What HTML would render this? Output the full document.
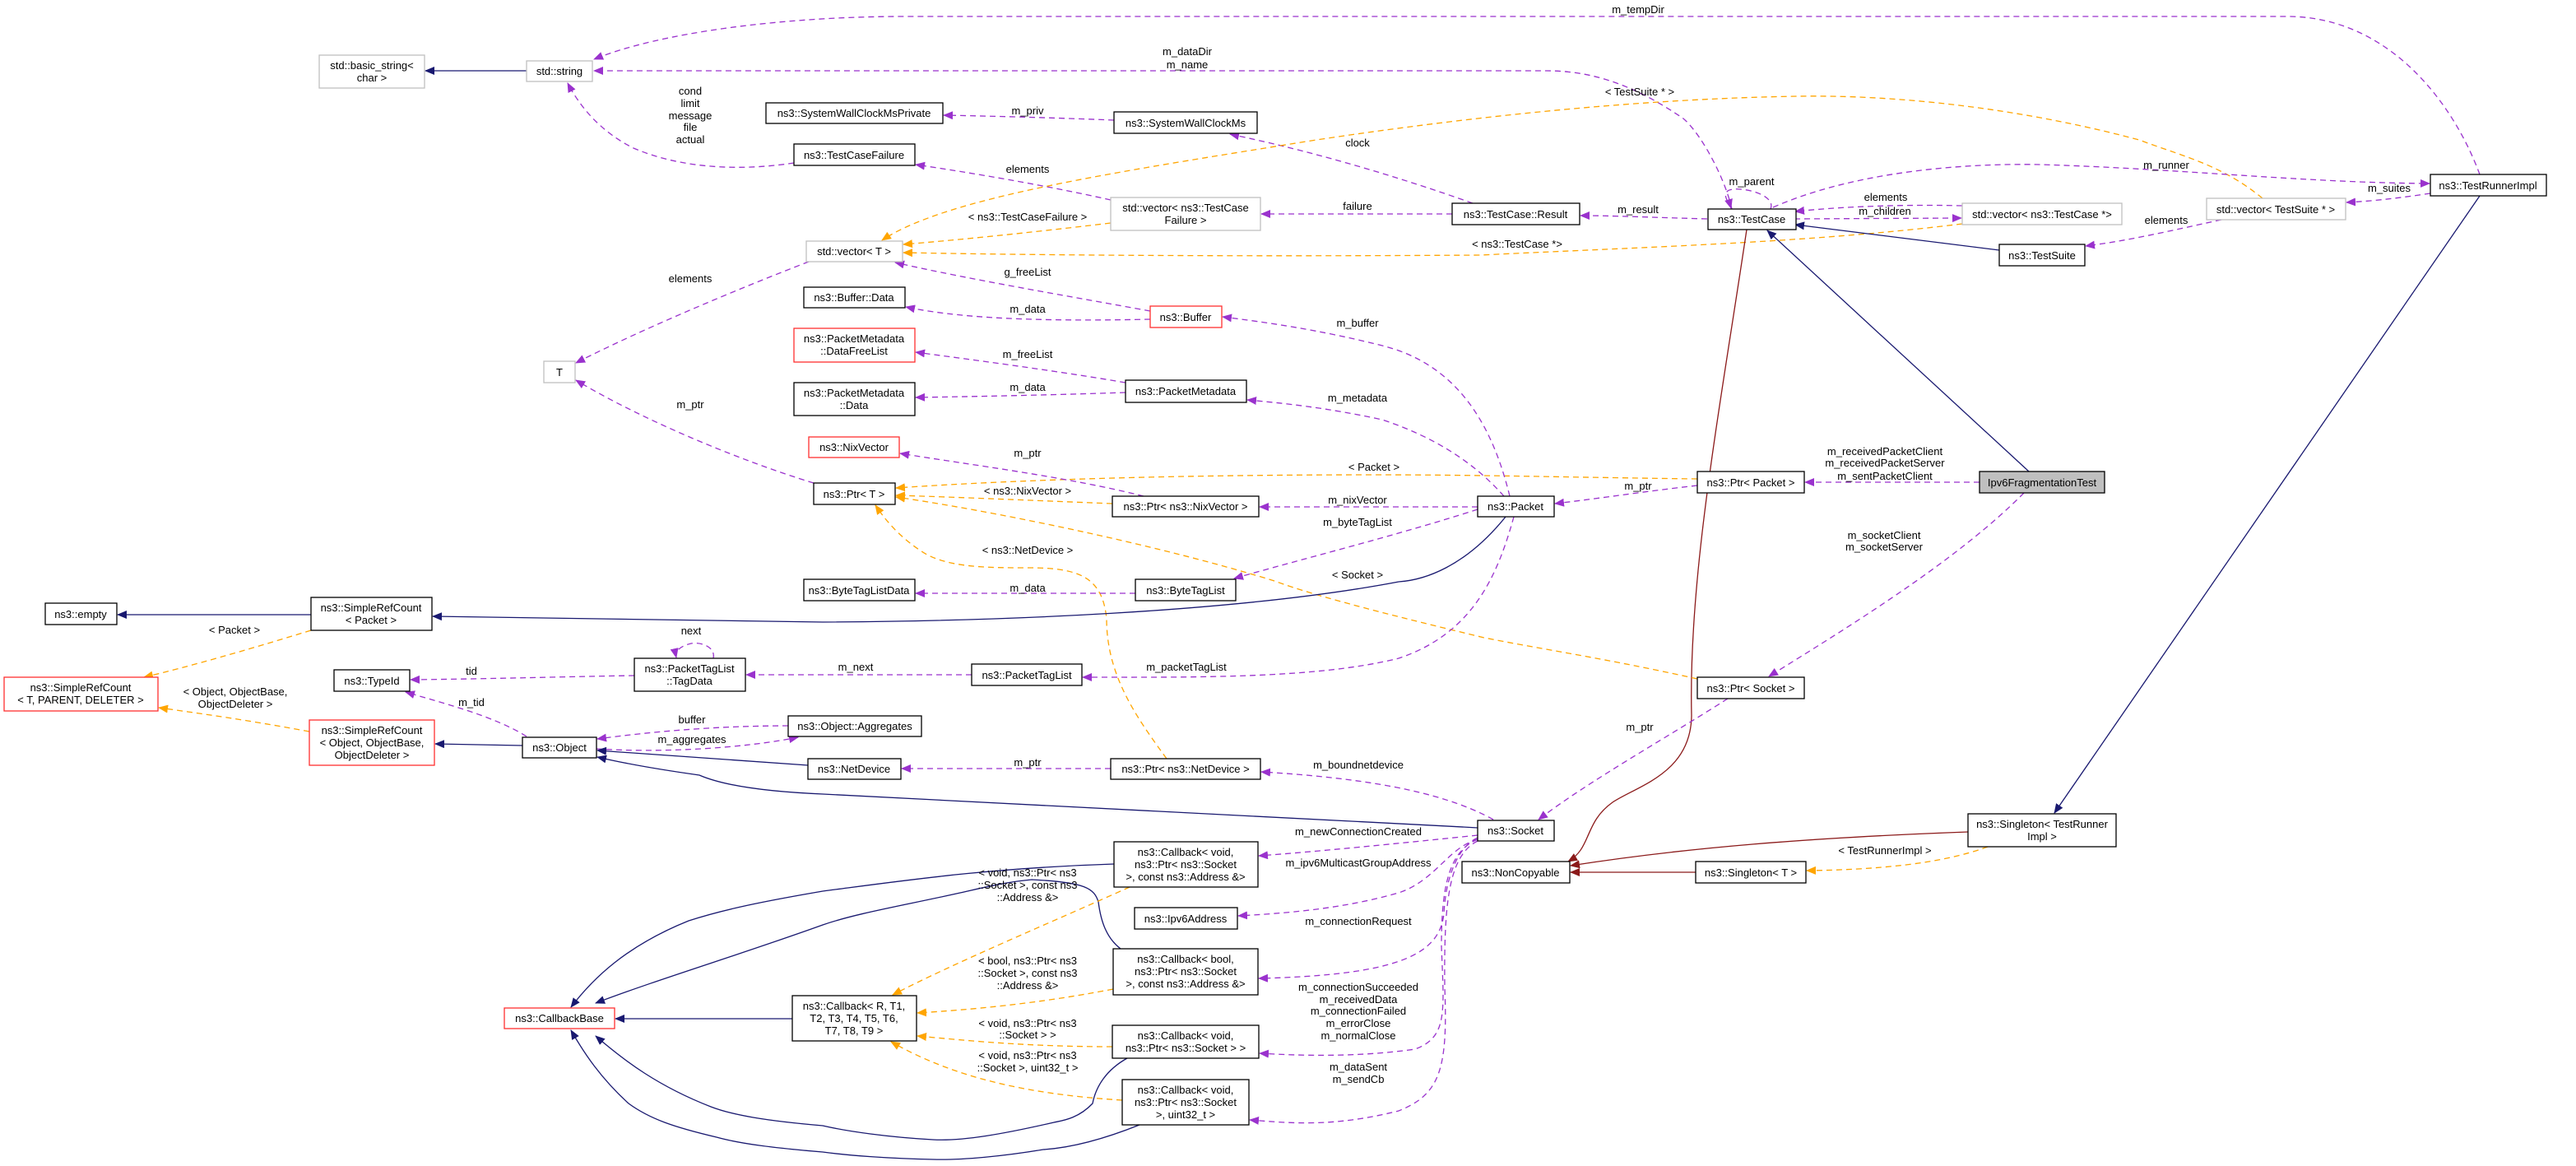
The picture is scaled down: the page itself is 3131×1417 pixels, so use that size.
<!DOCTYPE html>
<html><head><meta charset="utf-8"><style>
html,body{margin:0;padding:0;background:#fff;}
svg{display:block;}
text{font-family:"Liberation Sans",sans-serif;font-size:13px;fill:#000;}
.n{fill:#fff;stroke:#000;stroke-width:1.3;}
.g{fill:#fff;stroke:#bfbfbf;stroke-width:1.3;}
.r{fill:#fff;stroke:#ff3030;stroke-width:1.3;}
.f{fill:#bfbfbf;stroke:#000;stroke-width:1.3;}
.p{fill:none;stroke:#9a32cd;stroke-width:1.3;stroke-dasharray:7,5;}
.o{fill:none;stroke:#ffa500;stroke-width:1.3;stroke-dasharray:7,5;}
.b{fill:none;stroke:#191970;stroke-width:1.3;}
.d{fill:none;stroke:#8b1a1a;stroke-width:1.3;}
</style></head><body>
<svg width="3131" height="1417" viewBox="0 0 3131 1417" xmlns="http://www.w3.org/2000/svg">
<defs>
<marker id="mp" markerWidth="12" markerHeight="10" refX="11" refY="5" orient="auto" markerUnits="userSpaceOnUse"><path d="M0,0 L12,5 L0,10 z" fill="#9a32cd"/></marker>
<marker id="mo" markerWidth="12" markerHeight="10" refX="11" refY="5" orient="auto" markerUnits="userSpaceOnUse"><path d="M0,0 L12,5 L0,10 z" fill="#ffa500"/></marker>
<marker id="mb" markerWidth="12" markerHeight="10" refX="11" refY="5" orient="auto" markerUnits="userSpaceOnUse"><path d="M0,0 L12,5 L0,10 z" fill="#191970"/></marker>
<marker id="md" markerWidth="12" markerHeight="10" refX="11" refY="5" orient="auto" markerUnits="userSpaceOnUse"><path d="M0,0 L12,5 L0,10 z" fill="#8b1a1a"/></marker>
</defs>

<!-- EDGES -->
<g>
<path class="b" d="M640,86 L517,86" marker-end="url(#mb)"/>
<path class="p" d="M3014,212 C2980,120 2900,20 2780,20 L1100,20 C950,20 800,40 722,72" marker-end="url(#mp)"/>
<path class="p" d="M2105,254 C2095,210 2060,150 2040,140 C1980,100 1930,86 1880,86 L722,86" marker-end="url(#mp)"/>
<path class="p" d="M965,198 C920,205 840,210 770,180 C730,160 705,130 690,101" marker-end="url(#mp)"/>
<path class="p" d="M1354,146 C1280,143 1200,141 1147,140" marker-end="url(#mp)"/>
<path class="p" d="M1790,247 C1700,215 1600,185 1495,163" marker-end="url(#mp)"/>
<path class="p" d="M1350,243 C1270,225 1180,210 1113,200" marker-end="url(#mp)"/>
<path class="p" d="M1765,260 L1533,260" marker-end="url(#mp)"/>
<path class="o" d="M1350,271 C1250,283 1160,292 1098,297" marker-end="url(#mo)"/>
<path class="o" d="M2750,241 C2700,200 2653,190 2600,170 C2450,130 2300,115 2184,117 C2000,120 1800,140 1600,170 C1350,210 1150,240 1072,292" marker-end="url(#mo)"/>
<path class="o" d="M2385,272 C2200,295 2000,300 1800,310 C1500,312 1250,310 1098,307" marker-end="url(#mo)"/>
<path class="p" d="M2075,266 C2000,264 1960,262 1921,262" marker-end="url(#mp)"/>
<path class="p" d="M2152,254 C2160,235 2110,225 2100,232 C2093,238 2102,246 2104,253" marker-end="url(#mp)"/>
<path class="p" d="M2385,250 C2300,248 2230,252 2182,257" marker-end="url(#mp)"/>
<path class="p" d="M2181,266 L2384,265" marker-end="url(#mp)"/>
<path class="p" d="M2155,252 C2250,210 2380,198 2480,200 C2650,205 2800,222 2953,223" marker-end="url(#mp)"/>
<path class="p" d="M2954,235 C2920,240 2890,244 2852,246" marker-end="url(#mp)"/>
<path class="p" d="M2700,267 C2640,280 2590,292 2535,299" marker-end="url(#mp)"/>
<path class="b" d="M2430,304 L2182,273" marker-end="url(#mb)"/>
<path class="b" d="M2466,573 L2148,280" marker-end="url(#mb)"/>
<path class="b" d="M3014,238 L2497,988" marker-end="url(#mb)"/>
<path class="d" d="M2123,279 C2090,500 2052,700 2056,870 C2055,940 1990,955 1960,975 C1925,1000 1935,1030 1906,1047" marker-end="url(#md)"/>
<path class="d" d="M2392,1011 C2200,1018 2050,1030 1909,1052" marker-end="url(#md)"/>
<path class="d" d="M2061,1060 L1909,1060" marker-end="url(#md)"/>
<path class="o" d="M2416,1029 C2360,1050 2280,1057 2196,1058" marker-end="url(#mo)"/>
<path class="p" d="M2406,586 L2194,586" marker-end="url(#mp)"/>
<path class="p" d="M2460,599 C2380,680 2250,760 2150,822" marker-end="url(#mp)"/>
<path class="p" d="M2063,590 C2000,597 1950,605 1890,612" marker-end="url(#mp)"/>
<path class="o" d="M2063,582 C1900,580 1800,577 1670,577 C1450,577 1250,582 1089,593" marker-end="url(#mo)"/>
<path class="p" d="M1796,616 L1531,616" marker-end="url(#mp)"/>
<path class="o" d="M1352,612 C1250,608 1160,604 1089,602" marker-end="url(#mo)"/>
<path class="p" d="M1390,603 C1300,580 1180,565 1094,551" marker-end="url(#mp)"/>
<path class="p" d="M1835,603 C1810,500 1760,440 1680,420 C1600,400 1540,392 1486,385" marker-end="url(#mp)"/>
<path class="p" d="M1828,603 C1790,560 1740,530 1680,510 C1610,495 1560,490 1516,486" marker-end="url(#mp)"/>
<path class="p" d="M1368,465 C1280,450 1180,437 1113,428" marker-end="url(#mp)"/>
<path class="p" d="M1368,477 C1280,480 1180,482 1113,483" marker-end="url(#mp)"/>
<path class="p" d="M1398,378 C1300,360 1180,340 1088,319" marker-end="url(#mp)"/>
<path class="p" d="M1398,388 C1300,390 1180,390 1101,373" marker-end="url(#mp)"/>
<path class="p" d="M983,318 C900,350 780,400 700,441" marker-end="url(#mp)"/>
<path class="p" d="M989,587 C900,560 780,510 700,462" marker-end="url(#mp)"/>
<path class="p" d="M1796,619 C1700,650 1580,680 1500,703" marker-end="url(#mp)"/>
<path class="o" d="M1418,922 C1380,870 1345,820 1345,752 C1340,700 1310,690 1250,690 C1200,690 1150,690 1120,670 C1090,650 1075,630 1064,614" marker-end="url(#mo)"/>
<path class="o" d="M2063,825 C1950,800 1880,790 1804,775 C1700,750 1600,725 1549,706 C1400,660 1200,620 1089,604" marker-end="url(#mo)"/>
<path class="b" d="M1830,628 C1780,690 1730,705 1700,707 C1500,745 1200,755 1000,756 L526,749" marker-end="url(#mb)"/>
<path class="p" d="M1380,721 L1113,721" marker-end="url(#mp)"/>
<path class="p" d="M1840,628 C1820,700 1790,770 1700,800 C1600,825 1450,823 1316,823" marker-end="url(#mp)"/>
<path class="p" d="M1181,820 L907,820" marker-end="url(#mp)"/>
<path class="p" d="M867,800 C870,785 850,780 840,782 C828,785 820,790 822,799" marker-end="url(#mp)"/>
<path class="p" d="M771,821 C700,822 600,825 499,826" marker-end="url(#mp)"/>
<path class="p" d="M640,895 C600,870 540,855 493,841" marker-end="url(#mp)"/>
<path class="p" d="M958,882 C880,882 800,888 726,898" marker-end="url(#mp)"/>
<path class="p" d="M725,910 C800,915 900,910 970,896" marker-end="url(#mp)"/>
<path class="b" d="M635,906 L529,904" marker-end="url(#mb)"/>
<path class="o" d="M376,889 C300,875 250,868 193,860" marker-end="url(#mo)"/>
<path class="o" d="M378,766 C300,790 230,810 175,823" marker-end="url(#mo)"/>
<path class="b" d="M378,747 L143,747" marker-end="url(#mb)"/>
<path class="b" d="M982,930 L726,912" marker-end="url(#mb)"/>
<path class="b" d="M1796,1006 C1500,990 1200,975 1000,965 C930,962 880,955 850,942 C800,935 760,928 726,920" marker-end="url(#mb)"/>
<path class="p" d="M1350,934 L1096,934" marker-end="url(#mp)"/>
<path class="p" d="M1815,996 C1750,960 1650,945 1533,938" marker-end="url(#mp)"/>
<path class="p" d="M2100,849 C2020,900 1930,950 1870,996" marker-end="url(#mp)"/>
<path class="p" d="M1796,1015 C1700,1025 1600,1035 1530,1040" marker-end="url(#mp)"/>
<path class="p" d="M1796,1020 C1760,1030 1745,1070 1700,1085 C1630,1105 1560,1110 1505,1113" marker-end="url(#mp)"/>
<path class="p" d="M1796,1018 C1770,1030 1757,1070 1755,1110 C1750,1160 1700,1185 1530,1189" marker-end="url(#mp)"/>
<path class="p" d="M1796,1020 C1760,1035 1752,1080 1752,1150 C1755,1230 1760,1260 1720,1275 C1650,1285 1580,1283 1531,1280" marker-end="url(#mp)"/>
<path class="p" d="M1796,1022 C1760,1040 1755,1100 1756,1200 C1760,1300 1750,1330 1700,1350 C1620,1370 1570,1365 1519,1361" marker-end="url(#mp)"/>
<path class="b" d="M1354,1050 C1200,1055 1100,1070 1000,1083 C930,1095 880,1105 837,1119 C760,1150 720,1190 694,1224" marker-end="url(#mb)"/>
<path class="b" d="M1362,1153 C1345,1140 1338,1120 1335,1096 C1330,1080 1320,1072 1254,1069 C1220,1072 1190,1080 1167,1085 C1100,1100 1040,1110 1000,1124 C900,1160 800,1190 724,1219" marker-end="url(#mb)"/>
<path class="b" d="M963,1238 L748,1238" marker-end="url(#mb)"/>
<path class="b" d="M1370,1286 C1345,1300 1332,1320 1328,1341 C1310,1360 1290,1362 1281,1364 C1220,1378 1170,1387 1134,1385 C1080,1382 1030,1375 1000,1368 C930,1362 890,1355 864,1345 C800,1320 760,1290 724,1259" marker-end="url(#mb)"/>
<path class="b" d="M1385,1367 C1340,1385 1300,1395 1268,1397 C1220,1405 1170,1410 1134,1409 C1080,1408 1030,1404 1000,1400 C940,1395 900,1390 871,1382 C820,1370 790,1360 764,1341 C730,1310 710,1280 694,1252" marker-end="url(#mb)"/>
<path class="o" d="M1373,1078 C1280,1120 1160,1170 1085,1209" marker-end="url(#mo)"/>
<path class="o" d="M1353,1202 C1260,1220 1180,1227 1115,1231" marker-end="url(#mo)"/>
<path class="o" d="M1352,1272 C1250,1272 1180,1265 1115,1259" marker-end="url(#mo)"/>
<path class="o" d="M1364,1337 C1250,1330 1160,1310 1083,1266" marker-end="url(#mo)"/>
</g>

<!-- EDGE LABELS -->
<g text-anchor="middle">
<text x="1991" y="16">m_tempDir</text>
<text x="1443" y="67">m_dataDir</text>
<text x="1443" y="83">m_name</text>
<text x="839" y="115">cond</text>
<text x="839" y="130">limit</text>
<text x="839" y="145">message</text>
<text x="839" y="159">file</text>
<text x="839" y="174">actual</text>
<text x="1249" y="139">m_priv</text>
<text x="1650" y="178">clock</text>
<text x="1249" y="210">elements</text>
<text x="1650" y="255">failure</text>
<text x="1249" y="268">&lt; ns3::TestCaseFailure &gt;</text>
<text x="1993" y="116">&lt; TestSuite * &gt;</text>
<text x="1844" y="301">&lt; ns3::TestCase *&gt;</text>
<text x="1991" y="259">m_result</text>
<text x="2129" y="225">m_parent</text>
<text x="2292" y="244">elements</text>
<text x="2291" y="261">m_children</text>
<text x="2633" y="205">m_runner</text>
<text x="2904" y="233">m_suites</text>
<text x="2633" y="272">elements</text>
<text x="2291" y="1038">&lt; TestRunnerImpl &gt;</text>
<text x="2291" y="553">m_receivedPacketClient</text>
<text x="2291" y="567">m_receivedPacketServer</text>
<text x="2291" y="583">m_sentPacketClient</text>
<text x="2290" y="655">m_socketClient</text>
<text x="2290" y="669">m_socketServer</text>
<text x="1991" y="595">m_ptr</text>
<text x="1670" y="572">&lt; Packet &gt;</text>
<text x="1650" y="612">m_nixVector</text>
<text x="1249" y="601">&lt; ns3::NixVector &gt;</text>
<text x="1249" y="555">m_ptr</text>
<text x="1650" y="397">m_buffer</text>
<text x="1650" y="488">m_metadata</text>
<text x="1249" y="435">m_freeList</text>
<text x="1249" y="475">m_data</text>
<text x="1249" y="335">g_freeList</text>
<text x="1249" y="380">m_data</text>
<text x="839" y="343">elements</text>
<text x="839" y="496">m_ptr</text>
<text x="1650" y="639">m_byteTagList</text>
<text x="1249" y="673">&lt; ns3::NetDevice &gt;</text>
<text x="1650" y="703">&lt; Socket &gt;</text>
<text x="1249" y="719">m_data</text>
<text x="1442" y="815">m_packetTagList</text>
<text x="1040" y="815">m_next</text>
<text x="840" y="771">next</text>
<text x="573" y="820">tid</text>
<text x="573" y="858">m_tid</text>
<text x="841" y="879">buffer</text>
<text x="841" y="903">m_aggregates</text>
<text x="286" y="845">&lt; Object, ObjectBase,</text>
<text x="286" y="860">ObjectDeleter &gt;</text>
<text x="285" y="770">&lt; Packet &gt;</text>
<text x="1249" y="931">m_ptr</text>
<text x="1651" y="934">m_boundnetdevice</text>
<text x="1993" y="888">m_ptr</text>
<text x="1651" y="1015">m_newConnectionCreated</text>
<text x="1651" y="1053">m_ipv6MulticastGroupAddress</text>
<text x="1651" y="1124">m_connectionRequest</text>
<text x="1651" y="1204">m_connectionSucceeded</text>
<text x="1651" y="1219">m_receivedData</text>
<text x="1651" y="1233">m_connectionFailed</text>
<text x="1651" y="1248">m_errorClose</text>
<text x="1651" y="1263">m_normalClose</text>
<text x="1651" y="1301">m_dataSent</text>
<text x="1651" y="1316">m_sendCb</text>
<text x="1249" y="1065">&lt; void, ns3::Ptr&lt; ns3</text>
<text x="1249" y="1080">::Socket &gt;, const ns3</text>
<text x="1249" y="1095">::Address &amp;&gt;</text>
<text x="1249" y="1172">&lt; bool, ns3::Ptr&lt; ns3</text>
<text x="1249" y="1187">::Socket &gt;, const ns3</text>
<text x="1249" y="1202">::Address &amp;&gt;</text>
<text x="1249" y="1248">&lt; void, ns3::Ptr&lt; ns3</text>
<text x="1249" y="1262">::Socket &gt; &gt;</text>
<text x="1249" y="1287">&lt; void, ns3::Ptr&lt; ns3</text>
<text x="1249" y="1302">::Socket &gt;, uint32_t &gt;</text>
</g>

<!-- NODES -->
<g text-anchor="middle">
<rect class="g" x="388" y="67" width="128" height="40"/><text x="452" y="84">std::basic_string&lt;</text><text x="452" y="99">char &gt;</text>
<rect class="g" x="640" y="74" width="80" height="25"/><text x="680" y="91">std::string</text>
<rect class="g" x="661" y="439" width="38" height="26"/><text x="680" y="457">T</text>
<rect class="n" x="931" y="125" width="215" height="25"/><text x="1038" y="142">ns3::SystemWallClockMsPrivate</text>
<rect class="n" x="965" y="175" width="147" height="26"/><text x="1038" y="193">ns3::TestCaseFailure</text>
<rect class="g" x="980" y="293" width="117" height="25"/><text x="1038" y="310">std::vector&lt; T &gt;</text>
<rect class="n" x="977" y="349" width="123" height="25"/><text x="1038" y="366">ns3::Buffer::Data</text>
<rect class="r" x="965" y="399" width="147" height="41"/><text x="1038" y="416">ns3::PacketMetadata</text><text x="1038" y="431">::DataFreeList</text>
<rect class="n" x="965" y="465" width="147" height="40"/><text x="1038" y="482">ns3::PacketMetadata</text><text x="1038" y="497">::Data</text>
<rect class="r" x="983" y="531" width="110" height="25"/><text x="1038" y="548">ns3::NixVector</text>
<rect class="n" x="989" y="587" width="99" height="26"/><text x="1038" y="605">ns3::Ptr&lt; T &gt;</text>
<rect class="n" x="1354" y="136" width="174" height="26"/><text x="1441" y="154">ns3::SystemWallClockMs</text>
<rect class="g" x="1350" y="240" width="182" height="40"/><text x="1441" y="257">std::vector&lt; ns3::TestCase</text><text x="1441" y="272">Failure &gt;</text>
<rect class="n" x="1765" y="247" width="155" height="26"/><text x="1842" y="265">ns3::TestCase::Result</text>
<rect class="r" x="1398" y="372" width="87" height="26"/><text x="1441" y="390">ns3::Buffer</text>
<rect class="n" x="1368" y="462" width="147" height="27"/><text x="1441" y="480">ns3::PacketMetadata</text>
<rect class="n" x="1352" y="603" width="178" height="25"/><text x="1441" y="620">ns3::Ptr&lt; ns3::NixVector &gt;</text>
<rect class="n" x="1796" y="603" width="93" height="25"/><text x="1842" y="620">ns3::Packet</text>
<rect class="n" x="2076" y="254" width="107" height="25"/><text x="2129" y="271">ns3::TestCase</text>
<rect class="g" x="2385" y="247" width="194" height="26"/><text x="2482" y="265">std::vector&lt; ns3::TestCase *&gt;</text>
<rect class="n" x="2430" y="297" width="104" height="26"/><text x="2482" y="315">ns3::TestSuite</text>
<rect class="g" x="2682" y="241" width="169" height="26"/><text x="2766" y="259">std::vector&lt; TestSuite * &gt;</text>
<rect class="n" x="2954" y="212" width="141" height="26"/><text x="3024" y="230">ns3::TestRunnerImpl</text>
<rect class="n" x="2063" y="573" width="130" height="26"/><text x="2128" y="591">ns3::Ptr&lt; Packet &gt;</text>
<rect class="f" x="2406" y="573" width="152" height="26"/><text x="2482" y="591">Ipv6FragmentationTest</text>
<rect class="n" x="55" y="733" width="87" height="26"/><text x="98" y="751">ns3::empty</text>
<rect class="n" x="378" y="726" width="147" height="40"/><text x="451" y="743">ns3::SimpleRefCount</text><text x="451" y="758">&lt; Packet &gt;</text>
<rect class="r" x="5" y="823" width="187" height="41"/><text x="98" y="840">ns3::SimpleRefCount</text><text x="98" y="855">&lt; T, PARENT, DELETER &gt;</text>
<rect class="n" x="406" y="814" width="92" height="26"/><text x="452" y="832">ns3::TypeId</text>
<rect class="n" x="771" y="800" width="135" height="40"/><text x="838" y="817">ns3::PacketTagList</text><text x="838" y="832">::TagData</text>
<rect class="r" x="376" y="875" width="152" height="55"/><text x="452" y="892">ns3::SimpleRefCount</text><text x="452" y="907">&lt; Object, ObjectBase,</text><text x="452" y="922">ObjectDeleter &gt;</text>
<rect class="n" x="635" y="896" width="90" height="25"/><text x="680" y="913">ns3::Object</text>
<rect class="n" x="958" y="870" width="162" height="25"/><text x="1039" y="887">ns3::Object::Aggregates</text>
<rect class="n" x="982" y="922" width="113" height="25"/><text x="1038" y="939">ns3::NetDevice</text>
<rect class="r" x="613" y="1225" width="134" height="25"/><text x="680" y="1242">ns3::CallbackBase</text>
<rect class="n" x="963" y="1210" width="151" height="55"/><text x="1038" y="1227">ns3::Callback&lt; R, T1,</text><text x="1038" y="1242">T2, T3, T4, T5, T6,</text><text x="1038" y="1257">T7, T8, T9 &gt;</text>
<rect class="n" x="977" y="704" width="135" height="26"/><text x="1044" y="722">ns3::ByteTagListData</text>
<rect class="n" x="1380" y="704" width="122" height="26"/><text x="1441" y="722">ns3::ByteTagList</text>
<rect class="n" x="1181" y="807" width="134" height="26"/><text x="1248" y="825">ns3::PacketTagList</text>
<rect class="n" x="1350" y="922" width="182" height="25"/><text x="1441" y="939">ns3::Ptr&lt; ns3::NetDevice &gt;</text>
<rect class="n" x="1796" y="997" width="93" height="25"/><text x="1842" y="1014">ns3::Socket</text>
<rect class="n" x="1777" y="1047" width="131" height="26"/><text x="1842" y="1065">ns3::NonCopyable</text>
<rect class="n" x="1354" y="1023" width="175" height="55"/><text x="1441" y="1040">ns3::Callback&lt; void,</text><text x="1441" y="1055">ns3::Ptr&lt; ns3::Socket</text><text x="1441" y="1070">&gt;, const ns3::Address &amp;&gt;</text>
<rect class="n" x="1379" y="1103" width="125" height="26"/><text x="1441" y="1121">ns3::Ipv6Address</text>
<rect class="n" x="1353" y="1153" width="176" height="56"/><text x="1441" y="1170">ns3::Callback&lt; bool,</text><text x="1441" y="1185">ns3::Ptr&lt; ns3::Socket</text><text x="1441" y="1200">&gt;, const ns3::Address &amp;&gt;</text>
<rect class="n" x="1352" y="1246" width="178" height="40"/><text x="1441" y="1263">ns3::Callback&lt; void,</text><text x="1441" y="1278">ns3::Ptr&lt; ns3::Socket &gt; &gt;</text>
<rect class="n" x="1364" y="1312" width="154" height="55"/><text x="1441" y="1329">ns3::Callback&lt; void,</text><text x="1441" y="1344">ns3::Ptr&lt; ns3::Socket</text><text x="1441" y="1359">&gt;, uint32_t &gt;</text>
<rect class="n" x="2063" y="823" width="130" height="26"/><text x="2128" y="841">ns3::Ptr&lt; Socket &gt;</text>
<rect class="n" x="2392" y="989" width="180" height="40"/><text x="2482" y="1006">ns3::Singleton&lt; TestRunner</text><text x="2482" y="1021">Impl &gt;</text>
<rect class="n" x="2061" y="1047" width="134" height="26"/><text x="2128" y="1065">ns3::Singleton&lt; T &gt;</text>
</g>
</svg>
</body></html>
